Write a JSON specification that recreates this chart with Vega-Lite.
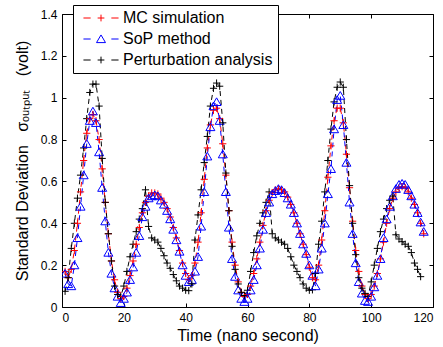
{
  "$schema": "https://vega.github.io/schema/vega-lite/v6.json",
  "width": 371,
  "height": 293,
  "autosize": {"type": "none"},
  "padding": {"left": 62, "top": 14, "right": 10, "bottom": 40},
  "background": "white",
  "config": {
    "view": {"stroke": "black", "strokeWidth": 1},
    "font": "Liberation Sans",
    "axis": {
      "grid": false,
      "domain": false,
      "tickColor": "black",
      "tickSize": -4,
      "labelColor": "black",
      "labelFontSize": 12,
      "labelFont": "Liberation Sans",
      "titleFontSize": 16,
      "titleFont": "Liberation Sans",
      "titleColor": "black",
      "titleFontWeight": "normal"
    },
    "legend": {
      "orient": "none",
      "legendX": 11,
      "legendY": -9,
      "title": null,
      "padding": 5,
      "strokeColor": "black",
      "fillColor": "white",
      "cornerRadius": 0,
      "labelFont": "Liberation Sans",
      "labelFontSize": 16,
      "labelColor": "black",
      "symbolSize": 81,
      "symbolStrokeWidth": 1,
      "symbolOffset": 15,
      "labelOffset": 14,
      "rowPadding": 5
    }
  },
  "data": {
    "values": [
      {"t": 1, "mc": 0.17, "sop": 0.16, "pa": 0.075},
      {"t": 2, "mc": 0.14, "sop": 0.11, "pa": 0.14},
      {"t": 3, "mc": 0.18, "sop": 0.10, "pa": 0.28},
      {"t": 4, "mc": 0.27, "sop": 0.20, "pa": 0.40},
      {"t": 5, "mc": 0.40, "sop": 0.33, "pa": 0.52},
      {"t": 6, "mc": 0.55, "sop": 0.48, "pa": 0.63},
      {"t": 7, "mc": 0.70, "sop": 0.63, "pa": 0.76},
      {"t": 8, "mc": 0.83, "sop": 0.78, "pa": 0.90},
      {"t": 9, "mc": 0.90, "sop": 0.89, "pa": 1.025},
      {"t": 10, "mc": 0.92, "sop": 0.935, "pa": 1.065},
      {"t": 11, "mc": 0.89, "sop": 0.88, "pa": 1.065},
      {"t": 12, "mc": 0.80, "sop": 0.74, "pa": 0.96},
      {"t": 13, "mc": 0.66, "sop": 0.57, "pa": 0.71},
      {"t": 14, "mc": 0.50, "sop": 0.41, "pa": 0.50},
      {"t": 15, "mc": 0.35, "sop": 0.26, "pa": 0.35},
      {"t": 16, "mc": 0.22, "sop": 0.16, "pa": 0.22},
      {"t": 17, "mc": 0.13, "sop": 0.09, "pa": 0.10},
      {"t": 18, "mc": 0.07, "sop": 0.05, "pa": 0.06},
      {"t": 19, "mc": 0.04, "sop": 0.02, "pa": 0.05},
      {"t": 20, "mc": 0.05, "sop": 0.04, "pa": 0.10},
      {"t": 21, "mc": 0.09, "sop": 0.07, "pa": 0.17},
      {"t": 22, "mc": 0.15, "sop": 0.13, "pa": 0.24},
      {"t": 23, "mc": 0.22, "sop": 0.19, "pa": 0.30},
      {"t": 24, "mc": 0.30, "sop": 0.26, "pa": 0.36},
      {"t": 25, "mc": 0.38, "sop": 0.34, "pa": 0.42},
      {"t": 26, "mc": 0.45, "sop": 0.43, "pa": 0.47},
      {"t": 27, "mc": 0.50, "sop": 0.48, "pa": 0.56},
      {"t": 28, "mc": 0.53, "sop": 0.52, "pa": 0.385},
      {"t": 29, "mc": 0.545, "sop": 0.53, "pa": 0.33},
      {"t": 30, "mc": 0.545, "sop": 0.535, "pa": 0.32},
      {"t": 31, "mc": 0.54, "sop": 0.53, "pa": 0.31},
      {"t": 32, "mc": 0.52, "sop": 0.51, "pa": 0.28},
      {"t": 33, "mc": 0.50, "sop": 0.49, "pa": 0.245},
      {"t": 34, "mc": 0.47, "sop": 0.46, "pa": 0.21},
      {"t": 35, "mc": 0.43, "sop": 0.42, "pa": 0.185},
      {"t": 36, "mc": 0.38, "sop": 0.37, "pa": 0.155},
      {"t": 37, "mc": 0.33, "sop": 0.32, "pa": 0.125},
      {"t": 38, "mc": 0.27, "sop": 0.265, "pa": 0.10},
      {"t": 39, "mc": 0.21, "sop": 0.20, "pa": 0.09},
      {"t": 40, "mc": 0.16, "sop": 0.15, "pa": 0.08},
      {"t": 41, "mc": 0.13, "sop": 0.12, "pa": 0.078},
      {"t": 42, "mc": 0.15, "sop": 0.13, "pa": 0.11},
      {"t": 43, "mc": 0.21, "sop": 0.17, "pa": 0.32},
      {"t": 44, "mc": 0.31, "sop": 0.24, "pa": 0.44},
      {"t": 45, "mc": 0.45, "sop": 0.385, "pa": 0.56},
      {"t": 46, "mc": 0.61, "sop": 0.55, "pa": 0.69},
      {"t": 47, "mc": 0.76, "sop": 0.72, "pa": 0.815},
      {"t": 48, "mc": 0.87, "sop": 0.86, "pa": 0.96},
      {"t": 49, "mc": 0.94, "sop": 0.96, "pa": 1.045},
      {"t": 50, "mc": 0.95, "sop": 0.98, "pa": 1.07},
      {"t": 51, "mc": 0.90, "sop": 0.89, "pa": 1.055},
      {"t": 52, "mc": 0.78, "sop": 0.73, "pa": 0.88},
      {"t": 53, "mc": 0.63, "sop": 0.55, "pa": 0.64},
      {"t": 54, "mc": 0.46, "sop": 0.38, "pa": 0.46},
      {"t": 55, "mc": 0.31, "sop": 0.23, "pa": 0.29},
      {"t": 56, "mc": 0.20, "sop": 0.145, "pa": 0.18},
      {"t": 57, "mc": 0.12, "sop": 0.08, "pa": 0.11},
      {"t": 58, "mc": 0.07, "sop": 0.04, "pa": 0.07},
      {"t": 59, "mc": 0.05, "sop": 0.025, "pa": 0.055},
      {"t": 60, "mc": 0.06, "sop": 0.04, "pa": 0.08},
      {"t": 61, "mc": 0.10, "sop": 0.08, "pa": 0.17},
      {"t": 62, "mc": 0.16, "sop": 0.13, "pa": 0.26},
      {"t": 63, "mc": 0.23, "sop": 0.20, "pa": 0.34},
      {"t": 64, "mc": 0.31, "sop": 0.28, "pa": 0.40},
      {"t": 65, "mc": 0.39, "sop": 0.37, "pa": 0.45},
      {"t": 66, "mc": 0.46, "sop": 0.45, "pa": 0.50},
      {"t": 67, "mc": 0.51, "sop": 0.50, "pa": 0.55},
      {"t": 68, "mc": 0.545, "sop": 0.54, "pa": 0.35},
      {"t": 69, "mc": 0.56, "sop": 0.555, "pa": 0.33},
      {"t": 70, "mc": 0.565, "sop": 0.565, "pa": 0.32},
      {"t": 71, "mc": 0.56, "sop": 0.56, "pa": 0.31},
      {"t": 72, "mc": 0.55, "sop": 0.545, "pa": 0.30},
      {"t": 73, "mc": 0.525, "sop": 0.52, "pa": 0.28},
      {"t": 74, "mc": 0.49, "sop": 0.49, "pa": 0.24},
      {"t": 75, "mc": 0.45, "sop": 0.45, "pa": 0.20},
      {"t": 76, "mc": 0.40, "sop": 0.40, "pa": 0.17},
      {"t": 77, "mc": 0.35, "sop": 0.35, "pa": 0.14},
      {"t": 78, "mc": 0.30, "sop": 0.30, "pa": 0.11},
      {"t": 79, "mc": 0.25, "sop": 0.255, "pa": 0.09},
      {"t": 80, "mc": 0.19, "sop": 0.20, "pa": 0.08},
      {"t": 81, "mc": 0.14, "sop": 0.15, "pa": 0.082},
      {"t": 82, "mc": 0.13, "sop": 0.10, "pa": 0.16},
      {"t": 83, "mc": 0.20, "sop": 0.18, "pa": 0.30},
      {"t": 84, "mc": 0.32, "sop": 0.28, "pa": 0.41},
      {"t": 85, "mc": 0.46, "sop": 0.40, "pa": 0.55},
      {"t": 86, "mc": 0.62, "sop": 0.54, "pa": 0.70},
      {"t": 87, "mc": 0.77, "sop": 0.66, "pa": 0.85},
      {"t": 88, "mc": 0.89, "sop": 0.85, "pa": 0.98},
      {"t": 89, "mc": 0.95, "sop": 0.99, "pa": 1.05},
      {"t": 90, "mc": 0.95, "sop": 1.01, "pa": 1.075},
      {"t": 91, "mc": 0.88, "sop": 0.87, "pa": 1.05},
      {"t": 92, "mc": 0.73, "sop": 0.69, "pa": 0.80},
      {"t": 93, "mc": 0.57, "sop": 0.50, "pa": 0.58},
      {"t": 94, "mc": 0.41, "sop": 0.35, "pa": 0.40},
      {"t": 95, "mc": 0.27, "sop": 0.21, "pa": 0.25},
      {"t": 96, "mc": 0.17, "sop": 0.12, "pa": 0.14},
      {"t": 97, "mc": 0.10, "sop": 0.065, "pa": 0.09},
      {"t": 98, "mc": 0.06, "sop": 0.03, "pa": 0.065},
      {"t": 99, "mc": 0.04, "sop": 0.025, "pa": 0.05},
      {"t": 100, "mc": 0.06, "sop": 0.05, "pa": 0.12},
      {"t": 101, "mc": 0.10, "sop": 0.095, "pa": 0.20},
      {"t": 102, "mc": 0.16, "sop": 0.15, "pa": 0.28},
      {"t": 103, "mc": 0.23, "sop": 0.23, "pa": 0.36},
      {"t": 104, "mc": 0.31, "sop": 0.33, "pa": 0.42},
      {"t": 105, "mc": 0.40, "sop": 0.42, "pa": 0.47},
      {"t": 106, "mc": 0.47, "sop": 0.48, "pa": 0.51},
      {"t": 107, "mc": 0.52, "sop": 0.53, "pa": 0.53},
      {"t": 108, "mc": 0.55, "sop": 0.565, "pa": 0.345},
      {"t": 109, "mc": 0.57, "sop": 0.585, "pa": 0.325},
      {"t": 110, "mc": 0.575, "sop": 0.59, "pa": 0.312},
      {"t": 111, "mc": 0.57, "sop": 0.585, "pa": 0.30},
      {"t": 112, "mc": 0.55, "sop": 0.56, "pa": 0.29},
      {"t": 113, "mc": 0.52, "sop": 0.53, "pa": 0.26},
      {"t": 114, "mc": 0.49, "sop": 0.49, "pa": 0.21},
      {"t": 115, "mc": 0.45, "sop": 0.45, "pa": 0.18},
      {"t": 116, "mc": 0.40, "sop": 0.405, "pa": 0.145},
      {"t": 117, "mc": 0.35, "sop": 0.36, "pa": null}
    ]
  },
  "transform": [{"fold": ["mc", "sop", "pa"], "as": ["series", "value"]}],
  "layer": [
    {
      "mark": {"type": "line", "strokeWidth": 1, "strokeDash": [5, 4], "clip": true},
      "encoding": {
        "x": {"field": "t", "type": "quantitative", "scale": {"domain": [0, 120], "nice": false},
              "axis": {"orient": "bottom", "values": [0, 20, 40, 60, 80, 100, 120], "title": "Time (nano second)", "labelPadding": 9, "titlePadding": 4}},
        "y": {"field": "value", "type": "quantitative", "scale": {"domain": [0, 1.4], "nice": false},
              "axis": {"orient": "left", "values": [0, 0.2, 0.4, 0.6, 0.8, 1, 1.2, 1.4], "format": "~g", "title": "Standard Deviation\u00a0\u00a0\u00a0σₒᵤₜₚᵤₜ\u00a0\u00a0\u00a0(volt)", "labelPadding": 9, "titlePadding": 10}},
        "color": {"field": "series", "type": "nominal", "scale": {"domain": ["mc", "sop", "pa"], "range": ["#ff0000", "#0000ff", "#000000"]}, "legend": null},
        "detail": {"field": "series"}
      }
    },
    {
      "mark": {"type": "point", "filled": false, "strokeWidth": 1, "size": 81, "opacity": 1, "clip": true},
      "encoding": {
        "x": {"field": "t", "type": "quantitative", "axis": {"orient": "top", "values": [0, 20, 40, 60, 80, 100, 120], "labels": false, "title": null}},
        "y": {"field": "value", "type": "quantitative", "axis": {"orient": "right", "values": [0, 0.2, 0.4, 0.6, 0.8, 1, 1.2, 1.4], "labels": false, "title": null}},
        "color": {"field": "series", "type": "nominal", "scale": {"domain": ["mc", "sop", "pa"], "range": ["#ff0000", "#0000ff", "#000000"]}, "legend": null},
        "shape": {"field": "series", "type": "nominal", "scale": {"domain": ["mc", "sop", "pa"], "range": ["M-0.8,0H0.8M0,-0.8V0.8", "M0,-0.9L1,0.8L-1,0.8Z", "M-0.8,0H0.8M0,-0.8V0.8"]}, "legend": null}
      }
    },
    {
      "transform": [{"filter": "datum.t < 0"}],
      "mark": {"type": "point", "filled": false, "strokeWidth": 1, "size": 81, "opacity": 1},
      "encoding": {
        "color": {"field": "series", "type": "nominal", "scale": {"domain": ["mc", "sop", "pa"], "range": ["#ff0000", "#0000ff", "#000000"]},
                  "legend": {"labelExpr": "datum.label == 'mc' ? 'MC simulation' : datum.label == 'sop' ? 'SoP method' : 'Perturbation analysis'"}},
        "shape": {"field": "series", "type": "nominal", "scale": {"domain": ["mc", "sop", "pa"], "range": ["M-3.9,0H-2.3M-0.75,0H0.75M0,-0.75V0.75M2.3,0H3.9", "M-3.9,0H-2.3M0,-0.9L1,0.8L-1,0.8ZM2.3,0H3.9", "M-3.9,0H-2.3M-0.75,0H0.75M0,-0.75V0.75M2.3,0H3.9"]},
                  "legend": {"labelExpr": "datum.label == 'mc' ? 'MC simulation' : datum.label == 'sop' ? 'SoP method' : 'Perturbation analysis'"}}
      }
    }
  ],
  "resolve": {
    "scale": {"shape": "independent", "color": "independent"},
    "axis": {"x": "independent", "y": "independent"}
  }
}
